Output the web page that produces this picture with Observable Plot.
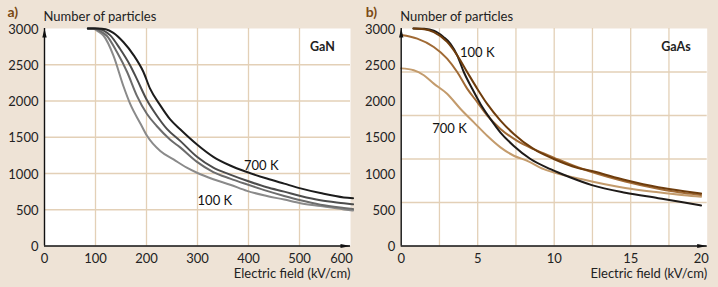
<!DOCTYPE html>
<html><head><meta charset="utf-8">
<script src="https://cdn.jsdelivr.net/npm/d3@7"></script>
<script src="https://cdn.jsdelivr.net/npm/@observablehq/plot@0.6"></script>
<style>
html,body{margin:0;padding:0;background:#EEE3D6;}
#wrap{position:relative;width:718px;height:287px;overflow:hidden;background:#EEE3D6;}
#a{position:absolute;left:0;top:0;}
#b{position:absolute;left:358px;top:0;}
svg{font-family:Lato, "Open Sans", sans-serif;}
</style></head><body><div id="wrap"><div id="a"></div><div id="b"></div></div>
<script>
// ---------- data ----------
const yTicks = [0, 500, 1000, 1500, 2000, 2500, 3000];
const ganTicksX = [0, 100, 200, 300, 400, 500, 600];
const gaasTicksX = [0, 5, 10, 15, 20];
const ganGridX = [100, 200, 300, 400, 500];
const ganGridY = [500, 1000, 1500, 2000, 2500];
const gaasGridX = [2.5, 5, 7.5, 10, 12.5, 15, 17.5];
const gaasGridY = [600, 1200, 1800, 2400];

// GaN (field kV/cm, number of particles)
const gan700 = [[85,3000],[105,3000],[120,2990],[135,2940],[155,2810],[175,2630],[194,2400],[207,2170],[227,1940],[246,1750],[266,1610],[299,1400],[331,1230],[364,1110],[397,1020],[436,930],[470,860],[502,795],[541,730],[587,670],[605,660]];
const gan500 = [[85,3000],[100,3000],[115,2975],[129,2905],[148,2720],[168,2490],[181,2305],[201,2010],[220,1800],[240,1615],[266,1450],[299,1230],[331,1080],[364,985],[397,900],[436,810],[470,750],[502,690],[541,630],[587,590],[605,575]];
const gan300 = [[85,3000],[98,3000],[110,2960],[122,2900],[142,2675],[162,2400],[181,2075],[201,1820],[220,1655],[246,1470],[266,1360],[299,1160],[331,1020],[364,930],[397,850],[436,760],[470,690],[502,630],[541,570],[587,525],[605,510]];
const gan100 = [[85,3000],[95,3000],[105,2960],[116,2900],[135,2630],[155,2200],[168,1960],[188,1690],[201,1520],[227,1310],[253,1195],[279,1080],[299,1010],[331,920],[364,845],[397,760],[436,690],[470,640],[502,590],[541,550],[587,505],[605,490]];

// GaAs
const gaas100 = [[0.8,3000],[1.5,2995],[2.13,2970],[2.78,2880],[3.22,2790],[3.66,2630],[4.09,2400],[4.64,2170],[5.18,1960],[5.84,1750],[6.49,1565],[7.36,1380],[8.45,1200],[9.76,1060],[10.3,1010],[11.07,945],[12.46,840],[14.64,735],[16.8,660],[18.5,600],[19.6,560]];
const gaas300 = [[0.8,3000],[1.5,2990],[2.13,2950],[3.0,2815],[3.66,2630],[4.31,2400],[4.97,2170],[5.62,1960],[6.49,1730],[7.36,1545],[8.67,1335],[9.97,1200],[11.5,1080],[12.46,1035],[14.64,910],[16.8,810],[18.5,755],[19.6,725]];
const gaas500 = [[0,2910],[1.05,2860],[2.13,2745],[3.0,2585],[3.66,2400],[4.31,2170],[4.97,1985],[5.62,1800],[6.49,1615],[7.58,1450],[8.67,1335],[9.97,1220],[11.5,1090],[12.46,1020],[14.64,890],[16.8,790],[18.5,730],[19.6,705]];
const gaas700 = [[0,2450],[0.82,2425],[1.48,2355],[2.13,2240],[3.0,2100],[3.88,1890],[4.75,1705],[5.62,1520],[6.49,1360],[7.36,1245],[8.24,1175],[9.32,1060],[10.4,990],[11.72,925],[12.46,890],[14.64,800],[16.8,740],[18.5,700],[19.6,680]];

// ---------- styles ----------
const gridColor = "#E3D0B7";
const axisColor = "#111";
const arrowUp = {draw(c){c.moveTo(0,0);c.lineTo(2.2,9);c.lineTo(-2.2,9);c.closePath();}};
const arrowRight = {draw(c){c.moveTo(0,0);c.lineTo(-10,2);c.lineTo(-10,-2);c.closePath();}};
const xy = {x: d => d[0], y: d => d[1]};

function panel({xDomain, xTicks, gridX, gridY, series, labels, letter, material, matPos, width, mLeft, mRight, letterDx, lastDx}) {
  return Plot.plot({
    width, height: 287,
    marginLeft: mLeft, marginRight: mRight, marginTop: 28, marginBottom: 41.5,
    style: {background: "transparent", fontSize: "13px", fontFamily: "Lato, sans-serif", color: "#222"},
    x: {domain: xDomain},
    y: {domain: [0, 3000]},
    marks: [
      Plot.frame({fill: "white", stroke: null}),
      Plot.ruleX(gridX, {stroke: gridColor, strokeWidth: 1.3}),
      Plot.ruleY(gridY, {stroke: gridColor, strokeWidth: 1.3}),
      ...series.map(s => Plot.line(s.data, {...xy, stroke: s.color, strokeWidth: 2, curve: "monotone-x"})),
      Plot.ruleX([0], {stroke: axisColor, strokeWidth: 1.4}),
      Plot.ruleY([0], {stroke: axisColor, strokeWidth: 1.4}),
      Plot.dot([[0, 3000]], {...xy, symbol: arrowUp, fill: axisColor, stroke: null}),
      Plot.dot([[xDomain[1], 0]], {...xy, symbol: arrowRight, fill: axisColor, stroke: null}),
      ...labels.map(l => Plot.text([l.text], {x: l.x, y: l.y, textAnchor: "middle", fontSize: 13, fill: "#111"})),
      Plot.text([material], {x: matPos[0], y: matPos[1], textAnchor: "middle", fontSize: 12.5, fontWeight: "bold", fill: "#222"}),
      Plot.text(["Number of particles"], {frameAnchor: "top-left", textAnchor: "start", lineAnchor: "middle", dx: -1, dy: -12, fontSize: 13, fill: "#222"}),
      Plot.text([letter], {frameAnchor: "top-left", textAnchor: "start", lineAnchor: "middle", dx: letterDx, dy: -15.5, fontSize: 14, fontWeight: "bold", fill: "#7A4A14"}),
      Plot.text(["Electric field (kV/cm)"], {frameAnchor: "bottom-right", textAnchor: "end", lineAnchor: "middle", dx: 0, dy: 28, fontSize: 13, fill: "#222"}),
      Plot.axisX({ticks: xTicks.slice(0, -1), tickSize: 0, tickPadding: 8, label: null, tickFormat: d => String(d)}),
      Plot.axisX({ticks: xTicks.slice(-1), tickSize: 0, tickPadding: 8, label: null, tickFormat: d => String(d), dx: lastDx}),
      Plot.axisY({ticks: yTicks, tickSize: 0, tickPadding: 6, label: null, tickFormat: d => String(d), dy: 1})
    ]
  });
}

document.getElementById("a").append(panel({
  xDomain: [0, 600], xTicks: ganTicksX, gridX: ganGridX, gridY: ganGridY,
  series: [
    {data: gan100, color: "#8A8A8A"},
    {data: gan300, color: "#6C6C6C"},
    {data: gan500, color: "#4C4C4C"},
    {data: gan700, color: "#1C1C1C"}
  ],
  labels: [{text: "700 K", x: 425, y: 1110}, {text: "100 K", x: 334, y: 620}],
  letter: "a)", material: "GaN", matPos: [545, 2750],
  width: 359, mLeft: 44, mRight: 9, letterDx: -37, lastDx: -9
}));

document.getElementById("b").append(panel({
  xDomain: [0, 20], xTicks: gaasTicksX, gridX: gaasGridX, gridY: gaasGridY,
  series: [
    {data: gaas700, color: "#C39B6C"},
    {data: gaas500, color: "#A06A35"},
    {data: gaas100, color: "#1E1A18"},
    {data: gaas300, color: "#6E3C0C"}
  ],
  labels: [{text: "100 K", x: 4.97, y: 2670}, {text: "700 K", x: 3.16, y: 1620}],
  letter: "b)", material: "GaAs", matPos: [17.96, 2745],
  width: 360, mLeft: 42.7, mRight: 11.3, letterDx: -35.5, lastDx: -6
}));
</script>
</body></html>
